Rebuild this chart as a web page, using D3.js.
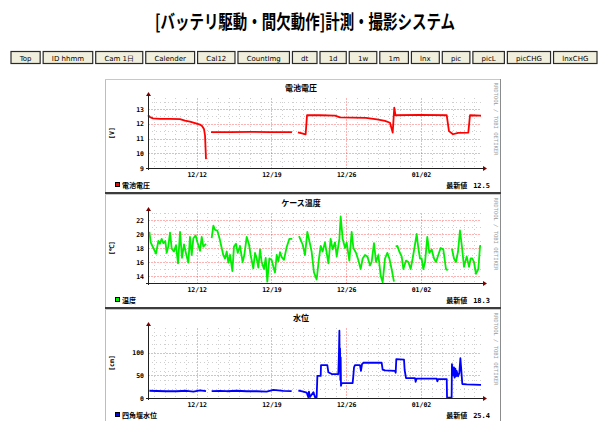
<!DOCTYPE html>
<html>
<head>
<meta charset="utf-8">
<script src="https://cdn.jsdelivr.net/npm/d3@7"></script>
<style>
  body { margin: 0; background: #fff; }
  svg { display: block; }
  .jp { font-family: "Noto Sans CJK JP", sans-serif; }
  .mono { font-family: "DejaVu Sans Mono", monospace; }
</style>
</head>
<body>
<svg id="page" width="604" height="421"></svg>
<script>
// page texts
const pageTitle = '[バッテリ駆動・間欠動作]計測・撮影システム';
const buttonLabels = ['Top', 'ID hhmm', 'Cam 1日', 'Calender', 'Cal12', 'CountImg', 'dt', '1d', '1w', '1m', 'lnx', 'pic', 'picL', 'picCHG', 'lnxCHG'];

// time axis: days counted from 2012-12-07 00:00
const BASE = new Date(2012, 11, 7);
const timeRange = [0.44, 31.62];

// [day, value] ; null = no data (gap)
const voltage = [
  [0.44, 12.58], [0.63, 12.45], [0.91, 12.37], [1.56, 12.34], [2.5, 12.33], [3.44, 12.32], [3.9, 12.22],
  [4.37, 12.15], [4.93, 12.03], [5.31, 11.95], [5.5, 11.85], [5.68, 11.65], [5.78, 11.2], [5.87, 9.6], null,
  [6.34, 11.44], [8.12, 11.44], [9.99, 11.45], [11.86, 11.44], [13.92, 11.44], null,
  [14.48, 11.42], [14.86, 11.35], [15.2, 11.29], [15.33, 12.58], [16.54, 12.58], [17.95, 12.55], [18.42, 12.43],
  [20.85, 12.4], [21.88, 12.3], [22.63, 12.2], [23.1, 12.07], [23.35, 11.4], [23.5, 13.1], [23.61, 12.58],
  [25.91, 12.6], [28.41, 12.58], [28.62, 11.5], [29.0, 11.29], [29.47, 11.38], [30.43, 11.4], [30.59, 12.58],
  [31.62, 12.55]
];

const temperature = [
  [0.57, 20.3], [0.69, 18.8], [0.94, 18.0], [1.19, 17.2], [1.41, 19.0], [1.56, 18.6], [1.72, 19.3], [1.88, 18.7],
  [2.06, 19.0], [2.19, 17.3], [2.34, 18.2], [2.50, 20.2], [2.66, 17.9], [2.87, 17.5], [3.06, 18.4], [3.25, 15.8],
  [3.44, 20.3], [3.62, 16.6], [3.81, 18.5], [4.00, 17.2], [4.22, 15.9], [4.37, 19.6], [4.53, 17.0], [4.69, 19.4],
  [4.90, 19.8], [5.09, 18.7], [5.31, 17.6], [5.47, 19.6], [5.62, 18.2], [5.87, 18.6], null,
  [6.40, 19.4], [6.56, 21.2], [6.71, 20.6], [6.93, 20.5], [7.12, 19.5], [7.34, 18.0], [7.49, 17.0], [7.65, 16.5],
  [7.81, 17.5], [7.96, 15.9], [8.12, 17.0], [8.34, 14.7], [8.49, 18.2], [8.68, 18.6], [8.84, 17.3], [9.05, 18.3],
  [9.30, 16.0], [9.46, 17.0], [9.68, 19.6], [9.90, 18.5], [10.05, 17.0], [10.30, 15.1], [10.46, 17.3], [10.62, 16.5],
  [10.77, 15.2], [10.93, 17.8], [11.08, 16.0], [11.30, 15.0], [11.46, 16.6], [11.61, 13.2], [11.80, 16.5],
  [12.02, 16.3], [12.18, 15.3], [12.33, 14.5], [12.49, 17.0], [12.64, 16.1], [12.80, 17.4], [12.96, 16.7],
  [13.17, 16.3], [13.42, 18.1], [13.67, 19.3], [13.95, 19.3], null,
  [14.58, 19.7], [14.92, 18.5], [15.14, 17.0], [15.36, 20.3], [15.55, 19.0], [15.76, 17.5], [15.98, 14.5],
  [16.23, 13.5], [16.45, 16.5], [16.61, 18.3], [16.79, 17.5], [17.01, 18.8], [17.17, 17.3], [17.33, 15.8],
  [17.54, 19.3], [17.73, 17.8], [17.95, 18.8], [18.11, 16.8], [18.36, 19.3], [18.48, 22.5], [18.67, 19.3],
  [18.89, 18.0], [19.04, 18.8], [19.29, 16.2], [19.51, 20.3], [19.67, 18.0], [19.92, 17.3], [20.13, 16.3],
  [20.35, 15.0], [20.54, 16.5], [20.76, 17.0], [20.98, 16.8], [21.23, 15.5], [21.38, 16.0], [21.60, 18.7],
  [21.79, 16.0], [22.01, 17.0], [22.23, 14.0], [22.41, 13.1], [22.63, 16.5], [22.85, 17.3], [23.04, 16.5],
  [23.25, 15.0], [23.47, 13.2], null,
  [23.63, 18.2], [23.79, 18.3], [23.97, 17.5], [24.19, 16.8], [24.35, 15.0], [24.60, 16.2], [24.82, 16.0],
  [25.03, 15.0], [25.22, 16.5], [25.44, 18.5], [25.60, 20.0], [25.75, 18.0], [25.91, 16.5], [26.06, 16.5],
  [26.22, 15.0], [26.38, 16.0], [26.59, 19.6], [26.78, 17.3], [27.00, 17.8], [27.22, 16.5], [27.41, 16.0],
  [27.62, 17.0], [27.84, 18.0], [28.09, 17.8], [28.34, 15.0], [28.50, 14.8], null,
  [28.90, 17.9], [29.09, 16.5], [29.28, 16.0], [29.47, 17.5], [29.65, 20.5], [29.81, 18.5], [30.03, 15.3],
  [30.28, 16.8], [30.50, 15.3], [30.65, 16.5], [30.81, 16.5], [30.96, 16.0], [31.15, 14.3], [31.37, 15.0],
  [31.53, 18.3], [31.62, 18.3]
];

const waterLevel = [
  [0.57, 16], [1.25, 15.5], [2.19, 15], [3.12, 15], [4.06, 16], [4.69, 14], [5.31, 17], [5.87, 15], null,
  [6.40, 15], [7.18, 16], [7.81, 15], [8.74, 16], [9.68, 15], [10.62, 15], [11.55, 14], [12.18, 18],
  [13.11, 16], [13.89, 15], null,
  [14.52, 16], [14.67, 16], [14.98, 14], [15.30, 12], [15.45, 2], [15.51, 14], [15.61, 2], [15.92, 13],
  [16.08, 2], [16.23, 2], [16.30, 49], [16.61, 49], [16.64, 73], [17.23, 73], [17.33, 57], [17.64, 53],
  [18.26, 53], [18.32, 100], [18.36, 149], [18.39, 60], [18.42, 110], [18.45, 40], [18.48, 90], [18.51, 27],
  [18.57, 33], [19.60, 33], [19.67, 50], [19.73, 68], [19.82, 73], [20.29, 73], [20.38, 60], [20.48, 75],
  [20.60, 78], [22.32, 78], [22.41, 63], [22.63, 61], [23.57, 60], [23.63, 56], [23.69, 86], [24.41, 85],
  [24.47, 62], [24.60, 44], [25.44, 44], [25.50, 36], [25.60, 43], [27.47, 43], [27.53, 37], [27.62, 42],
  [28.41, 42], [28.44, 1], [28.87, 1], [28.90, 75], [29.03, 50], [29.09, 68], [29.15, 45], [29.22, 65],
  [29.28, 48], [29.34, 60], [29.47, 48], [29.59, 55], [29.69, 88], [29.78, 60], [29.87, 31], [30.28, 30],
  [31.53, 29], [31.62, 29]
];

// per-panel axis values and texts
const panelTitles = ['電池電圧', 'ケース温度', '水位'];
const unitLabels = ['[V]', '[℃]', '[cm]'];
const legendLabels = ['電池電圧', '温度', '四角堰水位'];
const latestValues = ['12.5', '18.3', '25.4'];
const seriesColors = ['#ff0000', '#00ee00', '#0000ff'];
const yDomains = [[9, 13.75], [13, 23], [0, 155]];
const yMajorTicks = [[9, 10, 11, 12, 13], [14, 16, 18, 20, 22], [0, 50, 100]];
const yMinorSteps = [0.5, 1, 20];

const toDate = d => new Date(BASE.getTime() + d * 864e5);

const svg = d3.select('#page');

// ---- page header ----
svg.append('text')
  .attr('class', 'jp')
  .attr('x', 155)
  .attr('y', 29)
  .attr('textLength', 300)
  .attr('lengthAdjust', 'spacingAndGlyphs')
  .style('font-size', '19px')
  .style('font-weight', 'bold')
  .text(pageTitle);

const btn = svg.append('g').selectAll('g')
  .data(buttonLabels)
  .join('g');
btn.append('rect');
btn.append('text')
  .attr('y', 9)
  .attr('text-anchor', 'middle')
  .style('font-family', '"DejaVu Sans", sans-serif')
  .style('font-size', '7px')
  .style('fill', '#000')
  .text(d => d);

const textW = btn.select('text').nodes().map(n => n.getComputedTextLength());
const btnLeft = 11, btnRight = 597, btnGap = 3;
const btnPad = (btnRight - btnLeft - btnGap * (buttonLabels.length - 1) - d3.sum(textW)) / buttonLabels.length;
let bx = btnLeft;
btn.each(function(d, i) {
  const w = textW[i] + btnPad;
  const g = d3.select(this).attr('transform', `translate(${bx},51.5)`);
  g.select('rect')
    .attr('width', w).attr('height', 12)
    .attr('fill', '#f0eedc')
    .attr('stroke', '#2a2a2a')
    .attr('stroke-width', 1.2);
  g.select('text').attr('x', w / 2);
  bx += w + btnGap;
});

// ---- rrd style panels ----
const panelX = 105, panelW = 396, panelH = 115;
const panelTops = [79, 194, 309];
const plotL = 148, plotR = 481, plotTop = 19, plotH = 70;

const x = d3.scaleTime()
  .domain(timeRange.map(toDate))
  .range([plotL, plotR]);

const dayTicks = d3.timeDay.range(x.domain()[0], x.domain()[1]);
const weekTicks = d3.timeWednesday.range(x.domain()[0], x.domain()[1]);
const series = [voltage, temperature, waterLevel];

panelTitles.forEach((title, i) => {
  const pt = panelTops[i];
  const axisY = pt + plotTop + plotH;
  const g = svg.append('g');

  const y = d3.scaleLinear()
    .domain(yDomains[i])
    .range([axisY, pt + plotTop]);

  // frame
  g.append('rect')
    .attr('x', panelX).attr('y', pt)
    .attr('width', panelW).attr('height', panelH)
    .attr('fill', '#fff');
  g.append('line')
    .attr('x1', panelX + 0.5).attr('x2', panelX + 0.5)
    .attr('y1', pt).attr('y2', pt + panelH)
    .attr('stroke', '#bdbdbd');
  g.append('line')
    .attr('x1', panelX).attr('x2', panelX + panelW)
    .attr('y1', pt + 0.5).attr('y2', pt + 0.5)
    .attr('stroke', '#c8c8c8');
  g.append('line')
    .attr('x1', panelX + panelW - 0.5).attr('x2', panelX + panelW - 0.5)
    .attr('y1', pt).attr('y2', pt + panelH)
    .attr('stroke', '#8c8c8c');
  g.append('line')
    .attr('x1', panelX).attr('x2', panelX + panelW)
    .attr('y1', pt + panelH - 1).attr('y2', pt + panelH - 1)
    .attr('stroke', '#3c3c3c').attr('stroke-width', 2);

  // minor grid
  const [y0, y1] = yDomains[i];
  const step = yMinorSteps[i];
  const minorY = d3.range(Math.ceil(y0 / step) * step, y1 + 1e-9, step)
    .filter(v => !yMajorTicks[i].some(m => Math.abs(m - v) < 1e-6) && v > y0);
  g.append('g').selectAll('line')
    .data(minorY)
    .join('line')
    .attr('x1', plotL).attr('x2', plotR)
    .attr('y1', d => Math.round(y(d)) + 0.5).attr('y2', d => Math.round(y(d)) + 0.5)
    .attr('stroke', '#cfcfcf')
    .attr('stroke-dasharray', '1,3');
  g.append('g').selectAll('line')
    .data(dayTicks.filter(d => !weekTicks.some(w => +w === +d)))
    .join('line')
    .attr('x1', d => Math.round(x(d)) + 0.5).attr('x2', d => Math.round(x(d)) + 0.5)
    .attr('y1', pt + plotTop).attr('y2', axisY)
    .attr('stroke', '#cfcfcf')
    .attr('stroke-dasharray', '1,3');

  // major grid
  g.append('g').selectAll('line')
    .data(yMajorTicks[i].filter(v => v > y0))
    .join('line')
    .attr('x1', plotL).attr('x2', plotR)
    .attr('y1', d => Math.round(y(d)) + 0.5).attr('y2', d => Math.round(y(d)) + 0.5)
    .attr('stroke', 'rgba(255,0,0,0.3)')
    .attr('stroke-dasharray', '2,1');
  g.append('g').selectAll('line')
    .data(weekTicks)
    .join('line')
    .attr('x1', d => Math.round(x(d)) + 0.5).attr('x2', d => Math.round(x(d)) + 0.5)
    .attr('y1', pt + plotTop).attr('y2', axisY)
    .attr('stroke', 'rgba(255,0,0,0.3)')
    .attr('stroke-dasharray', '2,1');

  // data line
  const line = d3.line()
    .defined(d => d !== null)
    .x(d => x(toDate(d[0])))
    .y(d => y(d[1]));
  g.append('path')
    .datum(series[i])
    .attr('d', line)
    .attr('fill', 'none')
    .attr('stroke', seriesColors[i])
    .attr('stroke-width', 1.8)
    .attr('stroke-linejoin', 'round');

  // axes lines + arrows
  g.append('line')
    .attr('x1', plotL - 2).attr('x2', plotR + 2)
    .attr('y1', axisY + 0.5).attr('y2', axisY + 0.5)
    .attr('stroke', '#202020');
  g.append('line')
    .attr('x1', plotL + 0.5).attr('x2', plotL + 0.5)
    .attr('y1', axisY + 2).attr('y2', pt + plotTop - 2)
    .attr('stroke', '#202020');
  g.append('path')
    .attr('d', `M${plotR + 2},${axisY - 2} L${plotR + 6},${axisY + 0.5} L${plotR + 2},${axisY + 3} Z`)
    .attr('fill', '#7a0000');
  g.append('path')
    .attr('d', `M${plotL - 2},${pt + plotTop - 2} L${plotL + 0.5},${pt + plotTop - 6} L${plotL + 3},${pt + plotTop - 2} Z`)
    .attr('fill', '#7a0000');

  // tick labels
  g.append('g')
    .attr('transform', `translate(${plotL},0)`)
    .call(d3.axisLeft(y).tickValues(yMajorTicks[i]).tickSize(0).tickPadding(4).tickFormat(d3.format('d')))
    .call(a => a.select('.domain').remove())
    .call(a => a.selectAll('text')
      .attr('class', 'mono')
      .style('font-size', '6.5px')
      .style('font-weight', 'bold')
      .attr('fill', '#000'));
  g.append('g')
    .attr('transform', `translate(0,${axisY})`)
    .call(d3.axisBottom(x).tickValues(weekTicks).tickSize(0).tickPadding(4).tickFormat(d3.timeFormat('%m/%d')))
    .call(a => a.select('.domain').remove())
    .call(a => a.selectAll('text')
      .attr('class', 'mono')
      .style('font-size', '6.5px')
      .style('font-weight', 'bold')
      .attr('fill', '#000'));

  // title, unit
  g.append('text')
    .attr('class', 'jp')
    .attr('x', 301).attr('y', pt + 12)
    .attr('text-anchor', 'middle')
    .style('font-size', '8px')
    .style('font-weight', 'bold')
    .text(title);
  g.append('text')
    .attr('class', 'mono')
    .attr('transform', `translate(114,${pt + plotTop + plotH / 2}) rotate(-90)`)
    .attr('text-anchor', 'middle')
    .style('font-size', '6.5px')
    .style('font-weight', 'bold')
    .text(unitLabels[i]);

  // watermark
  g.append('text')
    .attr('class', 'mono')
    .attr('transform', `translate(494,${pt + 40}) rotate(90)`)
    .attr('text-anchor', 'middle')
    .style('font-size', '5.5px')
    .attr('fill', '#9a9a9a')
    .text('RRDTOOL / TOBI OETIKER');

  // legend
  g.append('rect')
    .attr('x', 115.5).attr('y', pt + 103.5)
    .attr('width', 4).attr('height', 4)
    .attr('fill', seriesColors[i])
    .attr('stroke', '#000');
  g.append('text')
    .attr('class', 'jp')
    .attr('x', 122).attr('y', pt + 108.5)
    .style('font-size', '7px')
    .style('font-weight', 'bold')
    .text(legendLabels[i]);
  g.append('text')
    .attr('x', 490).attr('y', pt + 108.5)
    .attr('text-anchor', 'end')
    .style('font-size', '7px')
    .style('font-weight', 'bold')
    .call(t => t.append('tspan').attr('class', 'jp').text('最新値'))
    .call(t => t.append('tspan').attr('class', 'mono').attr('dx', 6).text(latestValues[i]));
});
</script>
</body>
</html>
